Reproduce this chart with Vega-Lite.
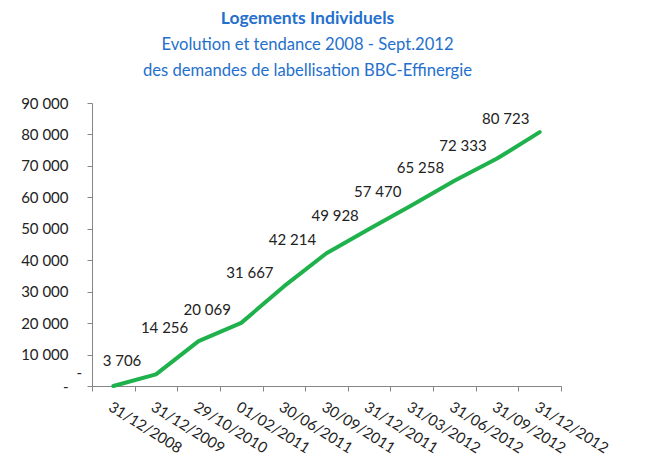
{
  "$schema": "https://vega.github.io/schema/vega-lite/v6.json",
  "width": 469,
  "height": 283,
  "autosize": {"type": "none"},
  "padding": {"left": 92, "top": 103, "right": 85, "bottom": 87},
  "background": "white",
  "config": {
    "locale": {"number": {"decimal": ",", "thousands": " ", "grouping": [3], "currency": ["", " €"]}},
    "view": {"stroke": null},
    "font": "Lato"
  },
  "title": {
    "text": "Logements Individuels",
    "subtitle": ["Evolution et tendance 2008 - Sept.2012", "des demandes de labellisation BBC-Effinergie"],
    "anchor": "middle",
    "frame": "group",
    "dx": -19,
    "font": "Lato",
    "fontSize": 17.5,
    "fontWeight": "bold",
    "color": "#2570cc",
    "subtitleFont": "Lato",
    "subtitleFontSize": 16.6,
    "subtitleColor": "#2570cc",
    "subtitleLineHeight": 26,
    "subtitlePadding": 10,
    "offset": 16
  },
  "data": {
    "values": [
      {"date": "31/12/2008", "value": 0},
      {"date": "31/12/2009", "value": 3706},
      {"date": "29/10/2010", "value": 14256},
      {"date": "01/02/2011", "value": 20069},
      {"date": "30/06/2011", "value": 31667},
      {"date": "30/09/2011", "value": 42214},
      {"date": "31/12/2011", "value": 49928},
      {"date": "31/03/2012", "value": 57470},
      {"date": "31/06/2012", "value": 65258},
      {"date": "31/09/2012", "value": 72333},
      {"date": "31/12/2012", "value": 80723}
    ]
  },
  "encoding": {
    "x": {
      "field": "date",
      "type": "ordinal",
      "sort": null,
      "bandPosition": 0.5,
      "scale": {"type": "band", "paddingInner": 0, "paddingOuter": 0},
      "axis": {
        "title": null,
        "tickBand": "extent",
        "labelAngle": 32,
        "labelAlign": "left",
        "labelBaseline": "top",
        "labelPadding": 8,
        "labelOverlap": false,
        "tickSize": 5,
        "domainColor": "#868686",
        "tickColor": "#868686",
        "labelColor": "#222222",
        "labelFont": "Lato",
        "labelFontSize": 15
      }
    },
    "y": {
      "field": "value",
      "type": "quantitative",
      "scale": {"domain": [0, 90000], "nice": false},
      "axis": {
        "title": null,
        "grid": false,
        "values": [0, 10000, 20000, 30000, 40000, 50000, 60000, 70000, 80000, 90000],
        "format": ",d",
        "labelExpr": "datum.value == 0 ? '-\u00a0\u00a0' : datum.label",
        "labelPadding": 19,
        "tickSize": 5,
        "domainColor": "#868686",
        "tickColor": "#868686",
        "labelColor": "#222222",
        "labelFont": "Lato",
        "labelFontSize": 15
      }
    }
  },
  "layer": [
    {
      "mark": {"type": "line", "color": "#1fb24c", "strokeWidth": 4, "strokeCap": "round", "strokeJoin": "round"}
    },
    {
      "mark": {"type": "text", "dx": -34, "dy": -13, "font": "Lato", "fontSize": 15, "color": "#222222"},
      "encoding": {
        "text": {
          "condition": {"test": "datum.value == 0", "value": "-"},
          "field": "value",
          "type": "quantitative",
          "format": ",d"
        }
      }
    }
  ]
}
